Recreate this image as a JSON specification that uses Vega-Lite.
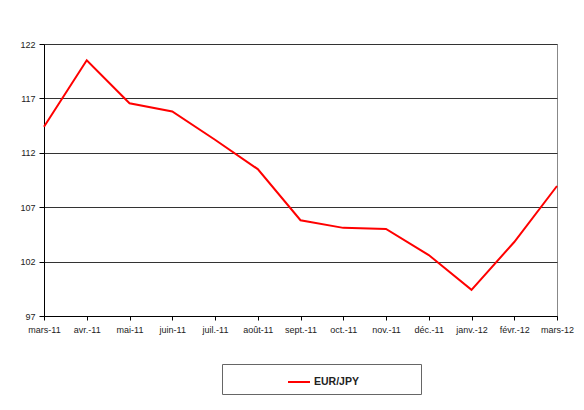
{
  "$schema": "https://vega.github.io/schema/vega-lite/v6.json",
  "width": 513,
  "height": 272,
  "autosize": {"type": "none"},
  "padding": {"left": 44, "top": 44, "right": 27, "bottom": 94},
  "background": "#ffffff",
  "data": {
    "values": [
      {"month": "mars-11", "value": 114.4, "series": "EUR/JPY"},
      {"month": "avr.-11", "value": 120.5, "series": "EUR/JPY"},
      {"month": "mai-11", "value": 116.55, "series": "EUR/JPY"},
      {"month": "juin-11", "value": 115.8, "series": "EUR/JPY"},
      {"month": "juil.-11", "value": 113.2, "series": "EUR/JPY"},
      {"month": "août-11", "value": 110.5, "series": "EUR/JPY"},
      {"month": "sept.-11", "value": 105.8, "series": "EUR/JPY"},
      {"month": "oct.-11", "value": 105.1, "series": "EUR/JPY"},
      {"month": "nov.-11", "value": 105.0, "series": "EUR/JPY"},
      {"month": "déc.-11", "value": 102.6, "series": "EUR/JPY"},
      {"month": "janv.-12", "value": 99.4, "series": "EUR/JPY"},
      {"month": "févr.-12", "value": 103.8, "series": "EUR/JPY"},
      {"month": "mars-12", "value": 108.95, "series": "EUR/JPY"}
    ]
  },
  "mark": {"type": "line", "strokeWidth": 2, "clip": false},
  "encoding": {
    "x": {
      "field": "month",
      "type": "ordinal",
      "sort": null,
      "scale": {"type": "point", "padding": 0},
      "axis": {
        "title": null,
        "labelAngle": 0,
        "grid": false,
        "domainColor": "#000000",
        "tickColor": "#000000",
        "tickSize": 4,
        "labelPadding": 5,
        "labelFont": "Liberation Sans",
        "labelFontSize": 9,
        "labelColor": "#222222"
      }
    },
    "y": {
      "field": "value",
      "type": "quantitative",
      "scale": {"domain": [97, 122], "nice": false, "zero": false},
      "axis": {
        "title": null,
        "values": [97, 102, 107, 112, 117, 122],
        "grid": true,
        "gridColor": "#333333",
        "gridWidth": 1,
        "domainColor": "#000000",
        "tickColor": "#000000",
        "tickSize": 5,
        "labelPadding": 4,
        "labelFont": "Liberation Sans",
        "labelFontSize": 9,
        "labelColor": "#222222"
      }
    },
    "color": {
      "field": "series",
      "type": "nominal",
      "scale": {"range": ["#ff0000"]},
      "legend": {
        "orient": "none",
        "legendX": 178,
        "legendY": 320,
        "title": " ",
        "titleOrient": "right",
        "titlePadding": 56,
        "padding": 6,
        "symbolOffset": 59,
        "symbolType": "stroke",
        "symbolStrokeWidth": 2,
        "symbolSize": 484,
        "labelOffset": 3,
        "labelFont": "Liberation Sans",
        "labelFontSize": 10.5,
        "labelFontWeight": "bold",
        "labelColor": "#222222",
        "strokeColor": "#666666",
        "fillColor": "#ffffff"
      }
    }
  },
  "config": {
    "view": {"stroke": "#888888", "strokeWidth": 1}
  }
}
